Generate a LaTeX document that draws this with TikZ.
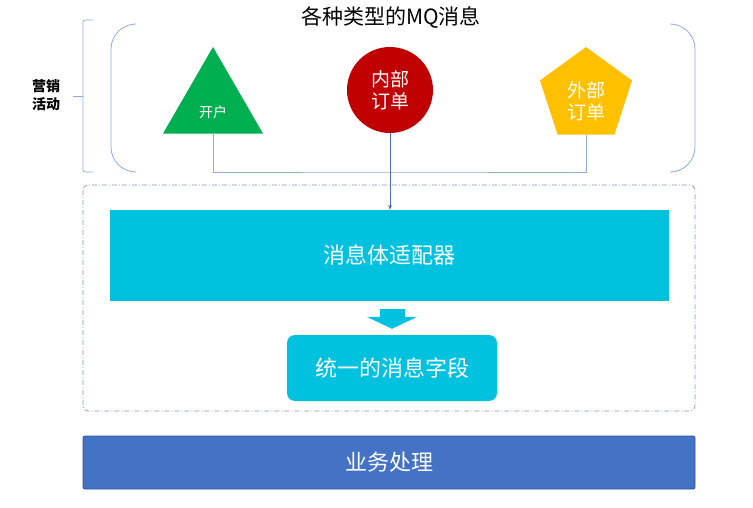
\documentclass[tikz,border=0pt]{standalone}
\usepackage{fontspec}
\setmainfont{Noto Sans CJK SC}
\usepackage{xcolor}
\usepackage{tikz}
\usetikzlibrary{positioning,arrows.meta,shapes.geometric}
\definecolor{mqgreen}{HTML}{00B050}
\definecolor{mqred}{HTML}{C00000}
\definecolor{mqorange}{HTML}{FFC000}
\definecolor{mqcyan}{HTML}{00C1DE}
\definecolor{mqblue}{HTML}{4472C4}
\definecolor{mqblueline}{HTML}{2F5597}
\definecolor{mqline}{HTML}{8FAADC}
\definecolor{mqframe}{HTML}{8497B0}
\newcommand{\fsz}[2]{\fontsize{#1}{#2}\selectfont}

\begin{document}
\begin{tikzpicture}[
    x=1pt, y=-1pt,
    every node/.style={font=\fsz{22}{26}},
    msg/.style={inner sep=0pt, text=white, align=center, font=\fsz{19}{22}},
    msglabel/.style={text=white, align=center, font=\fsz{19}{22}},
    panel/.style={fill=mqcyan, text=white, inner sep=0pt},
    bracket/.style={draw=mqline, line width=0.8pt},
    feed/.style={draw=mqline, line width=0.8pt},
    feedarrow/.style={draw=mqblue, line width=0.8pt, -{Stealth[length=5pt,width=4pt]}},
    blockarrow/.style={draw=mqcyan, line width=25pt, -{Triangle[length=12pt,width=50pt]}}
  ]
  \useasboundingbox (0,0) rectangle (753,508);

  % title
  \node[font=\fsz{21}{24}] (title) at (391,18) {各种类型的MQ消息};

  % left brace
  \draw[bracket, rounded corners=2pt] (93,20) -- (83,20) -- (83,172) -- (93,172);
  \draw[bracket] (73,96) -- (83,96);
  \node[font=\fsz{14}{18}\bfseries, align=center] (yingxiao) at (46,95) {营销\\活动};

  % big bracket
  \draw[bracket, rounded corners=25pt] (135,24) -- (111,24) -- (111,172) -- (135,172);
  \draw[bracket, rounded corners=25pt] (670,24) -- (695,24) -- (695,172) -- (670,172);

  % message types
  \node[msg, regular polygon, regular polygon sides=3, minimum size=115.5pt, fill=mqgreen,
        label={[msglabel, font=\fsz{14}{16}, yshift=-7pt]center:开户}] (kaihu) at (213,104.7) {};
  \node[msg, circle, minimum size=86pt, fill=mqred] (neibu) at (390,90) {内部\\订单};
  \node[msg, regular polygon, regular polygon sides=5, minimum size=96.8pt, fill=mqorange,
        label={[msglabel, yshift=-6pt]center:外部\\订单}] (waibu) at (586,95.4) {};

  % adapter frame
  \draw[draw=mqframe, line width=0.7pt, dash pattern=on 5pt off 2pt on 1pt off 2pt, rounded corners=5pt] (83,185) rectangle (695,411);

  \node[panel, minimum width=559pt, minimum height=91pt] (adapter) at (389.5,255.5) {消息体适配器};
  \node[panel, rounded corners=8pt, minimum width=210pt, minimum height=66pt] (unified) at (392,368) {统一的消息字段};

  % business
  \node[panel, fill=mqblue, draw=mqblueline, line width=0.8pt, rounded corners=2pt, minimum width=612pt, minimum height=53pt] (biz) at (389,462.5) {业务处理};

  % --- arrows ---
  \coordinate (join) at (390,172);
  \draw[feed] (kaihu.south) |- (join) -| (waibu.south);
  \draw[feedarrow] (neibu.south) -- (neibu.south |- adapter.north);
  \draw[blockarrow] ([yshift=-8pt]adapter.south -| unified.north) -- ([yshift=6pt]unified.north);

\end{tikzpicture}
\end{document}
